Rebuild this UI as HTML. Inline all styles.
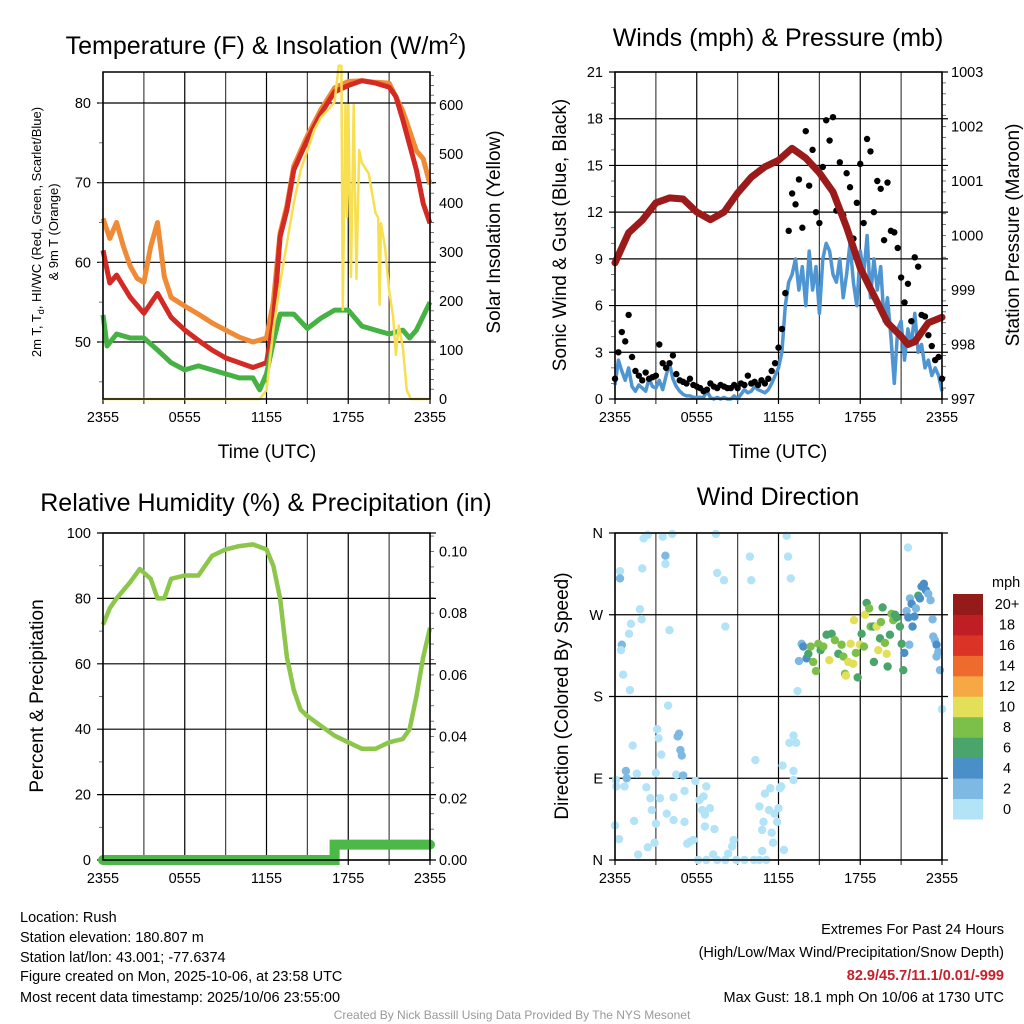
<!DOCTYPE html>
<html><head><meta charset="utf-8"><style>
html,body{margin:0;padding:0;background:#fff}
svg{display:block;font-family:"Liberation Sans",Arial,sans-serif}
</style></head><body>
<svg id="fig" width="1024" height="1024" viewBox="0 0 1024 1024" xmlns="http://www.w3.org/2000/svg">
<rect width="1024" height="1024" fill="#fff"/>
<g id="g1"></g>
<g id="g2"></g>
<g id="g3"></g>
<g id="g4"></g>
<g font-size="14.5" fill="#000">
<text x="20" y="922">Location: Rush</text>
<text x="20" y="942">Station elevation: 180.807 m</text>
<text x="20" y="962">Station lat/lon: 43.001; -77.6374</text>
<text x="20" y="981">Figure created on Mon, 2025-10-06, at 23:58 UTC</text>
<text x="20" y="1002">Most recent data timestamp: 2025/10/06 23:55:00</text>
<text x="1004" y="934" text-anchor="end">Extremes For Past 24 Hours</text>
<text x="1004" y="957" text-anchor="end">(High/Low/Max Wind/Precipitation/Snow Depth)</text>
<text x="1004" y="980" text-anchor="end" fill="#c8202a" font-weight="bold">82.9/45.7/11.1/0.01/-999</text>
<text x="1004" y="1002" text-anchor="end">Max Gust: 18.1 mph On 10/06 at 1730 UTC</text>
<text x="512" y="1019" text-anchor="middle" font-size="12" fill="#999">Created By Nick Bassill Using Data Provided By The NYS Mesonet</text>
</g>
</svg>
<script>
// ---- data ----
const xTickLabels = ["2355","0555","1155","1755","2355"];
const tempHours = [0,0.5,1,2,3,4,5,6,7,8,9,10,11,12,12.5,13,13.5,14,15,16,17,18,19,20,21,21.5,22,23,23.5,24];
const tempRed = [61.5,57.4,58.4,55.6,53.6,56.1,53.1,51.5,50.2,49,48,47.4,46.8,47.4,52.4,63.2,66.6,71.6,75.4,78.7,81.4,82.2,82.8,82.5,82,80.8,77.9,71.6,67.4,64.9];
const orangeHours = [0,0.5,1,1.5,2,2.5,3,3.5,4,4.5,5,6,7,8,9,10,11,12,12.5,13,13.5,14,15,16,17,18,19,20,21,22,23,23.5,24];
const temp9m = [65.5,63,65,62,59.5,58,57.5,62,65,58.2,55.6,54.5,53.5,52.4,51.5,50.6,50,50.5,55,63.7,67.1,72.1,75.9,79.2,81.9,82.7,82.8,82.6,82.5,79,74,73,69.8];
const greenHours = [0,0.3,1,2,3,4,5,6,7,8,9,10,11,11.5,12,12.5,13,14,15,16,17,18,19,20,21,22,22.5,23,24];
const dewHI = [53.4,49.5,51,50.5,50.5,49,47.4,46.5,47,46.5,46,45.5,45.5,44,46,50,53.5,53.5,51.7,53,54,54,52,51.5,51,51.5,50.5,51.5,55];
const solarHours = [0,11.5,12,12.5,13,13.5,14,14.5,15,15.5,16,16.5,17,17.3,17.5,17.6,17.8,17.9,18,18.2,18.4,18.6,18.8,19,19.5,20,20.2,20.3,20.4,20.7,21,21.3,21.5,21.7,22,22.3,22.6,24];
const solar = [0,0,18,141,237,318,400,467,508,549,575,590,606,680,680,182,600,371,600,249,600,245,508,482,460,380,370,192,359,310,222,167,90,150,106,18,0,0];
const tempTicks = [50,60,70,80];
const solarTicks = [0,100,200,300,400,500,600];

const windStep = 0.25;
const gust = [1.3,3,4.3,3.7,5.4,2.7,1.8,1.5,1.2,1.7,1.3,1.4,1.5,3.5,2.3,2.0,2.3,2.8,1.6,1.2,1.1,1.0,1.3,0.9,0.8,0.7,0.5,0.6,1.0,0.8,0.7,0.9,0.8,0.7,0.7,0.9,0.7,1.0,0.9,1.5,1.0,1.1,0.9,1.2,1.0,1.3,1.8,2.3,3.3,4.5,6.8,10.8,13.2,12.5,14.1,11.0,17.2,13.7,16.0,12.0,11.3,14.9,17.9,16.6,18.1,12.1,15.2,11.8,14.5,13.6,10.3,12.6,15.1,11.3,16.7,15.9,12.0,14.0,13.5,10.2,13.9,10.8,10.7,9.7,7.8,6.2,7.4,5.0,9.1,8.5,5.4,5.3,4.1,3.4,2.5,2.7,1.3];
const sonicWind = [0.9,2.5,1.8,1.2,2.0,0.8,0.5,0.9,0.7,0.5,1.3,0.8,0.7,1.2,0.6,1.5,2.3,1.3,0.8,0.5,0.3,0.2,0.2,0.1,0.1,0.1,0.1,0.5,0.1,0.0,0.1,0.0,0.1,0.0,0.0,0.2,0.0,0.3,0.6,0.4,0.5,0.8,0.6,0.5,0.4,0.6,1.0,1.5,2.0,3.0,6.0,7.5,8.0,9.0,7.0,8.5,6.0,9.5,7.0,8.5,5.5,9.0,10.0,9.5,8.0,7.5,9.0,6.5,8.0,10.0,7.5,6.0,9.5,8.0,10.5,6.5,9.0,7.0,8.5,5.0,6.5,4.0,1.0,4.5,5.0,2.5,4.5,3.5,5.5,3.0,3.5,2.0,2.5,1.5,2.0,1.5,0.5];
const pressHours = [0,1,2,3,4,5,6,7,8,9,10,11,12,13,14,15,16,17,18,19,20,21,21.5,22,23,24];
const pressure = [999.5,1000.05,1000.28,1000.6,1000.69,1000.67,1000.43,1000.29,1000.43,1000.78,1001.07,1001.26,1001.38,1001.6,1001.42,1001.15,1000.8,1000.15,999.4,998.9,998.4,998.15,998.0,998.05,998.4,998.5];
const windTicks = [0,3,6,9,12,15,18,21];
const pressTicks = [997,998,999,1000,1001,1002,1003];

const rhHours = [0,0.5,1,2,2.7,3.5,4,4.5,5,6,7,8,9,10,11,12,12.5,13,13.5,14,14.5,15,16,17,18,19,20,21,22,22.5,23,23.5,24];
const rh = [72,77,80,85,89,86,80,80,86,87,87,93,95,96,96.5,95,90,80,62,52,46,44,41,38,36,34,34,36,37,40,50,62,71];
const precipHours = [0,17,17,24];
const precip = [0,0,0.005,0.005];
const rhTicks = [0,20,40,60,80,100];
const precipTicks = ["0.00","0.02","0.04","0.06","0.08","0.10"];

const dirHours = [0.37,0.37,0.5,0.44,0.6,1.1,1.03,1.17,1.83,1.96,2.0,2.1,2.4,3.5,3.7,3.7,4.2,4.0,3.9,3.1,3.2,3.4,1.3,0.8,0.86,0.07,0.1,0.7,1.6,2.3,2.6,2.7,1.4,0,0.3,1.7,2.4,2.9,3,3,3.3,3.8,4.3,4.3,4.5,4.6,4.7,4.8,4.9,5,5.1,5.1,5.3,5.5,5.75,5.9,6.2,6.4,6.5,6.6,6.7,6.97,6.6,7.3,6.1,6.7,7.2,7.5,8.1,8.3,8.6,8.7,8.9,9.5,10.2,10.6,10.8,11.1,10.6,10.9,10.8,11,11.4,11.3,11.6,11.5,11.7,11.9,12,12.1,12.2,12.3,12.4,10.3,12.8,13.1,13.3,13.1,13.1,7.4,7.5,8,8.1,9.9,10,12.6,12.7,12.9,21.5,24,13.4,13.5,
13.7,13.82,14.06,14.19,14.36,14.55,14.75,14.92,15.09,15.29,15.53,15.73,15.9,16.14,16.39,16.63,16.76,16.88,16.95,17.12,17.29,17.49,17.54,17.68,17.81,17.98,18.1,18.27,18.35,18.47,18.66,18.76,18.96,19.0,19.2,19.32,19.45,19.52,19.64,19.81,19.94,20.01,20.18,20.3,20.42,20.55,20.67,20.91,21.04,21.16,21.23,21.4,21.53,21.65,21.77,21.84,21.97,22.09,22.26,22.38,22.5,22.67,22.82,22.99,23.16,23.31,23.36,23.48,23.6,23.6,23.73,23.85,21.6];
const dirDeg = [318,310,237,231,204,187,249,260,276,265,321,354,358,356,335,326,359,253,170,144,134,116,126,98,90,88,81,81,95,80,68,55,43,38,23,6,14,19,40,96,68,51,44,69,94,136,139,121,115,93,76,42,18,20,22,87,66,55,70,50,81,57,37,34,0,0,6,0,0,7,15,22,0,0,0,0,10,0,59,42,33,73,79,55,19,30,51,42,57,79,81,104,11,110,129,137,129,98,88,359,316,308,257,334,308,357,334,310,344,166,186,219,
238,235,222,227,235,218,208,238,231,235,248,220,249,242,227,237,224,205,203,218,238,216,264,228,201,237,249,235,270,283,277,257,257,218,257,231,244,262,278,239,227,213,248,271,264,270,267,257,238,209,228,274,267,288,282,257,268,277,291,288,301,304,297,293,286,265,246,242,237,224,229,209,237];
const dirSpeed = [1,3,3,1,1,1,1,1,1,1,1,1,1,1,3,1,1,1,1,1,1,1,1,3,3,1,1,1,1,1,1,1,1,1,1,1,1,1,1,1,1,1,1,1,1,3,3,3,3,3,1,1,1,1,1,1,1,1,1,1,1,1,1,1,1,1,1,1,1,1,1,1,1,1,1,1,1,1,1,1,1,1,1,1,1,1,1,1,1,1,1,1,1,1,1,1,1,1,1,1,1,1,1,1,1,1,1,1,1,1,1,2,
3,4,4,6,8,8,8,8,7,8,6,10,6,8,6,8,8,8,10,10,10,10,10,8,7,10,7,8,10,6,8,8,7,6,10,10,6,8,6,8,10,6,7,8,8,6,6,6,6,6,4,3,4,3,4,4,4,3,6,4,4,4,4,3,3,3,2,2,4,3,3,2,3];
const dirTickLabels = ["N","E","S","W","N"];
const speedLevels = ["0","2","4","6","8","10","12","14","16","18","20+"];
const speedColors = ["#b3e3f7","#7db9e3","#4a8fc8","#4aa56b","#7cc04a","#e4df58","#f5a843","#ef6a2d","#db3427","#bf1e24","#951b1b"];

// ---- helpers ----
const NS="http://www.w3.org/2000/svg";
function mk(parent,tag,attrs,text){const e=document.createElementNS(NS,tag);for(const k in attrs)e.setAttribute(k,attrs[k]);if(text!==undefined)e.textContent=text;parent.appendChild(e);return e;}
function lin(d0,d1,r0,r1){return v=>r0+(v-d0)*(r1-r0)/(d1-d0);}
function pathFrom(xs,ys,fx,fy){return xs.map((x,i)=>(i?"L":"M")+fx(x).toFixed(1)+","+fy(ys[i]).toFixed(1)).join("");}

function frame(g,x0,x1,y0,y1,xs){
  for(let h=0;h<=24;h+=3){const x=xs(h);
    const l=mk(g,"line",{x1:x,x2:x,y1:y0,y2:y1+5,stroke:(h%6===0?"#000":"#444"),"stroke-width":1.2});
    
    }
  xTickLabels.forEach((t,i)=>{const e=mk(g,"text",{x:xs(i*6),y:y1+23,"text-anchor":"middle","font-size":14.5},t);
    
    });
}
function hgrid(g,x0,x1,y){
  const l=mk(g,"line",{x1:x0-6,x2:x1+6,y1:y,y2:y,stroke:"#000","stroke-width":1.2});
  
  
}
function tickL(g,x,y,t){const e=mk(g,"text",{x:x,y:y+5,"text-anchor":"end","font-size":14.5},t);
  
  }
function tickR(g,x,y,t){const e=mk(g,"text",{x:x,y:y+5,"text-anchor":"start","font-size":14.5},t);
  
  }
function box(g,x0,x1,y0,y1){const r=mk(g,"rect",{x:x0,y:y0,width:x1-x0,height:y1-y0,fill:"none",stroke:"#000","stroke-width":1.5});
  
  }
function vtext(g,x,y,t,fs,name){const e=mk(g,"text",{x:0,y:0,transform:`translate(${x},${y}) rotate(-90)`,"text-anchor":"middle","font-size":fs},t);
  
  return e;}
function minorTicks(g,x,vals,fy,dir){vals.forEach(v=>{const y=fy(v);const l=mk(g,"line",{x1:x,x2:x+dir*4,y1:y,y2:y,stroke:"#555","stroke-width":0.8});
  
  });}

// ---- Panel 1 ----
(function(){
  const g=document.getElementById("g1");
  const X0=103,X1=430,Y0=72,Y1=399;
  const xs=lin(0,24,X0,X1), ty=lin(50,80,342,103), sy=lin(0,600,399,105);
  frame(g,X0,X1,Y0,Y1,xs);
  tempTicks.forEach(v=>{hgrid(g,X0,X1,ty(v));tickL(g,X0-12,ty(v),v);});
  solarTicks.forEach(v=>{tickR(g,X1+9,sy(v),v);});
  const mm=[];for(let v=45;v<=83;v+=5)mm.push(v);minorTicks(g,X0,mm,ty,-1);
  const sm=[];for(let v=20;v<=670;v+=20)if(v%100)sm.push(v);minorTicks(g,X1,sm,sy,1);
  const o=mk(g,"path",{d:pathFrom(orangeHours,temp9m,xs,ty),fill:"none",stroke:"#f08a35","stroke-width":5,"stroke-linejoin":"round"});
  
  const r=mk(g,"path",{d:pathFrom(tempHours,tempRed,xs,ty),fill:"none",stroke:"#d42a24","stroke-width":5,"stroke-linejoin":"round"});
  
  const gr=mk(g,"path",{d:pathFrom(greenHours,dewHI,xs,ty),fill:"none",stroke:"#46b244","stroke-width":5,"stroke-linejoin":"round"});
  
  const y=mk(g,"path",{d:pathFrom(solarHours,solar,xs,sy),fill:"none",stroke:"#f7df4f","stroke-width":2.5,"stroke-linejoin":"round"});
  
  box(g,X0,X1,Y0,Y1);
  const t=mk(g,"text",{x:266,y:54,"text-anchor":"middle","font-size":25},"Temperature (F) & Insolation (W/m");
  mk(t,"tspan",{dy:-10,"font-size":16},"2");mk(t,"tspan",{dy:10},")");
  
  const xl=mk(g,"text",{x:267,y:458,"text-anchor":"middle","font-size":19},"Time (UTC)");
  
  const yl=vtext(g,41,232,"",13,"y-axis-title");
  mk(yl,"tspan",{},"2m T, T");mk(yl,"tspan",{dy:3,"font-size":9},"d");mk(yl,"tspan",{dy:-3},", HI/WC (Red, Green, Scarlet/Blue)");
  vtext(g,58,232,"& 9m T (Orange)",13,"y-axis-title-line2");
  vtext(g,500,232,"Solar Insolation (Yellow)",19,"right-y-axis-title");
})();

// ---- Panel 2 ----
(function(){
  const g=document.getElementById("g2");
  const X0=615,X1=942,Y0=72,Y1=399;
  const xs=lin(0,24,X0,X1), wy=lin(0,21,399,72), py=lin(997,1003,399,72);
  frame(g,X0,X1,Y0,Y1,xs);
  windTicks.forEach(v=>{hgrid(g,X0,X1,wy(v));tickL(g,X0-12,wy(v),v);});
  pressTicks.forEach(v=>tickR(g,X1+9,py(v),v));
  const mm=[];for(let v=1;v<21;v++)if(v%3)mm.push(v);minorTicks(g,X0,mm,wy,-1);
  const pm=[];for(let v=997.2;v<1003;v+=0.2)pm.push(v);minorTicks(g,X1,pm,py,1);
  const hrs=sonicWind.map((_,i)=>i*windStep);
  const b=mk(g,"path",{d:pathFrom(hrs,sonicWind,xs,wy),fill:"none",stroke:"#4e95d2","stroke-width":3.5,"stroke-linejoin":"round"});
  
  gust.forEach((v,i)=>{const c=mk(g,"circle",{cx:xs(i*windStep),cy:wy(v),r:3.2,fill:"#000"});
    
    });
  const p=mk(g,"path",{d:pathFrom(pressHours,pressure,xs,py),fill:"none",stroke:"#9b1b1b","stroke-width":7,"stroke-linejoin":"round","stroke-linecap":"round"});
  
  box(g,X0,X1,Y0,Y1);
  const t=mk(g,"text",{x:778,y:46,"text-anchor":"middle","font-size":25},"Winds (mph) & Pressure (mb)");
  
  const xl=mk(g,"text",{x:778,y:458,"text-anchor":"middle","font-size":19},"Time (UTC)");
  
  vtext(g,566,235,"Sonic Wind & Gust (Blue, Black)",19,"y-axis-title");
  vtext(g,1019,235,"Station Pressure (Maroon)",19,"right-y-axis-title");
})();

// ---- Panel 3 ----
(function(){
  const g=document.getElementById("g3");
  const X0=103,X1=430,Y0=533,Y1=860;
  const xs=lin(0,24,X0,X1), ry=lin(0,100,860,533), qy=lin(0,0.1,860,551.5);
  frame(g,X0,X1,Y0,Y1,xs);
  rhTicks.forEach(v=>{hgrid(g,X0,X1,ry(v));tickL(g,X0-12,ry(v),v);});
  precipTicks.forEach(v=>tickR(g,X1+9,qy(parseFloat(v)),v));
  const mm=[];for(let v=10;v<100;v+=20)mm.push(v);minorTicks(g,X0,mm,ry,-1);
  const pm=[];for(let v=0.005;v<0.106;v+=0.005)pm.push(v);minorTicks(g,X1,pm,qy,1);
  const l=mk(g,"path",{d:pathFrom(rhHours,rh,xs,ry),fill:"none",stroke:"#8cc64a","stroke-width":4.5,"stroke-linejoin":"round"});
  
  const p=mk(g,"path",{d:pathFrom(precipHours,precip,xs,qy),fill:"none",stroke:"#4cb848","stroke-width":10,"stroke-linecap":"round"});
  
  box(g,X0,X1,Y0,Y1);
  const t=mk(g,"text",{x:266,y:511,"text-anchor":"middle","font-size":25},"Relative Humidity (%) & Precipitation (in)");
  
  vtext(g,43,696,"Percent & Precipitation",19,"y-axis-title");
})();

// ---- Panel 4 ----
(function(){
  const g=document.getElementById("g4");
  const X0=615,X1=942,Y0=533,Y1=860;
  const xs=lin(0,24,X0,X1), dy=lin(0,360,860,533);
  frame(g,X0,X1,Y0,Y1,xs);
  dirTickLabels.forEach((t,i)=>{hgrid(g,X0,X1,dy(i*90));tickL(g,X0-12,dy(i*90),t);});
  function col(s){let k=Math.min(10,Math.floor(s/2));return speedColors[k];}
  dirHours.forEach((h,i)=>{const c=mk(g,"circle",{cx:xs(h),cy:dy(dirDeg[i]),r:4.2,fill:col(dirSpeed[i])});
    
    });
  box(g,X0,X1,Y0,Y1);
  const cb=mk(g,"g",{});
  
  const bh=(819-594)/11;
  speedLevels.forEach((lv,i)=>{const y=819-(i+1)*bh;
    const r=mk(cb,"rect",{x:953,y:y,width:30,height:bh+0.5,fill:speedColors[i]});
    
    
    const t=mk(cb,"text",{x:1007,y:y+bh/2+5,"text-anchor":"middle","font-size":14.5},lv);
    
    });
  const u=mk(cb,"text",{x:992,y:587,"font-size":14.5},"mph");
  
  const t=mk(g,"text",{x:778,y:505,"text-anchor":"middle","font-size":25},"Wind Direction");
  
  vtext(g,568,696,"Direction (Colored By Speed)",19,"y-axis-title");
})();
</script>
</body></html>
